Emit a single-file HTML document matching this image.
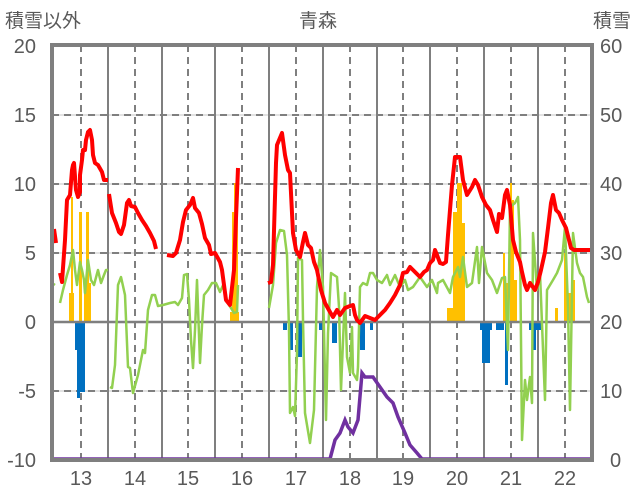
<!DOCTYPE html>
<html><head><meta charset="utf-8"><style>body{margin:0;background:#fff}svg{display:block}</style></head><body>
<svg width="636" height="501" xmlns="http://www.w3.org/2000/svg" font-family="Liberation Sans, Noto Sans CJK JP, sans-serif" fill="#595959">
<rect width="636" height="501" fill="#fff"/>
<g stroke="#d9d9d9" stroke-width="1.5"><line x1="52" y1="115" x2="592" y2="115"/><line x1="52" y1="184" x2="592" y2="184"/><line x1="52" y1="253" x2="592" y2="253"/><line x1="52" y1="391" x2="592" y2="391"/></g>
<g stroke="#7f7f7f" stroke-width="2" stroke-dasharray="7,5"><line x1="52" y1="115" x2="592" y2="115"/><line x1="52" y1="184" x2="592" y2="184"/><line x1="52" y1="253" x2="592" y2="253"/><line x1="52" y1="391" x2="592" y2="391"/>
<line x1="81" y1="45" x2="81" y2="460"/><line x1="135" y1="45" x2="135" y2="460"/><line x1="188" y1="45" x2="188" y2="460"/><line x1="242" y1="45" x2="242" y2="460"/><line x1="296" y1="45" x2="296" y2="460"/><line x1="350" y1="45" x2="350" y2="460"/><line x1="403" y1="45" x2="403" y2="460"/><line x1="457" y1="45" x2="457" y2="460"/><line x1="511" y1="45" x2="511" y2="460"/><line x1="565" y1="45" x2="565" y2="460"/></g>
<g stroke="#7f7f7f" stroke-width="2"><line x1="108" y1="45" x2="108" y2="460"/><line x1="162" y1="45" x2="162" y2="460"/><line x1="215" y1="45" x2="215" y2="460"/><line x1="269" y1="45" x2="269" y2="460"/><line x1="323" y1="45" x2="323" y2="460"/><line x1="377" y1="45" x2="377" y2="460"/><line x1="430" y1="45" x2="430" y2="460"/><line x1="484" y1="45" x2="484" y2="460"/><line x1="538" y1="45" x2="538" y2="460"/></g>
<g fill="#FFC000">
<rect x="69" y="293" width="5" height="29"/><rect x="71" y="197" width="2" height="125"/><rect x="79" y="212" width="3" height="110"/><rect x="84" y="283" width="7" height="39"/><rect x="86" y="212" width="3" height="110"/>
<rect x="230" y="312" width="9" height="10"/><rect x="232" y="212" width="3" height="110"/><rect x="234" y="183" width="4" height="139"/>
<rect x="447" y="308" width="6" height="14"/><rect x="453" y="212" width="4" height="110"/><rect x="457" y="183" width="5" height="139"/><rect x="462" y="223" width="3" height="99"/>
<rect x="503" y="253" width="2" height="69"/><rect x="505" y="283" width="3" height="39"/><rect x="510" y="183" width="2" height="139"/><rect x="512" y="200" width="2" height="122"/><rect x="514" y="280" width="3" height="42"/>
<rect x="555" y="308" width="3" height="14"/><rect x="564" y="253" width="3" height="69"/><rect x="567" y="293" width="5" height="29"/><rect x="572" y="280" width="3" height="42"/></g>
<g fill="#0070C0">
<rect x="75" y="322" width="4" height="28"/><rect x="77" y="322" width="3" height="76"/><rect x="80" y="322" width="5" height="70"/>
<rect x="283" y="322" width="4" height="8"/><rect x="288" y="322" width="5" height="28"/><rect x="298" y="322" width="4" height="35"/><rect x="319" y="322" width="3" height="8"/><rect x="332" y="322" width="5" height="21"/><rect x="360" y="322" width="5" height="28"/><rect x="370" y="322" width="3" height="8"/>
<rect x="480" y="322" width="12" height="8"/><rect x="482" y="322" width="8" height="41"/><rect x="496" y="322" width="8" height="8"/><rect x="505" y="322" width="3" height="63"/><rect x="529" y="322" width="13" height="8"/><rect x="533" y="322" width="3" height="28"/></g>
<line x1="52" y1="322" x2="592" y2="322" stroke="#7f7f7f" stroke-width="2.5"/>
<g fill="none" stroke="#92D050" stroke-width="2.5" stroke-linejoin="round">
<polyline points="52,283 55,285"/>
<polyline points="60,303 63,290 67,275 70,265 73,250 75,270 77,285 80,262 82,270 84,280 85,293 88,260 91,280 94,285 98,270 101,283 104,275 106,270 108,270"/>
<polyline points="110,387 112,388 115,365 118,285 121,277 125,295 128,367 130,368 133,393 138,375 143,350 145,353 148,310 152,295 155,295 158,306 163,305 170,303 175,302 178,305 182,298 184,275 187,274 189,300 191,340 193,368 195,330 197,280 199,335 200,363 202,325 204,295 208,290 212,283 216,283 220,292 224,283 227,302 231,308 234,313 237,312 238,285"/>
<polyline points="269,308 273,285 276,243 280,230 284,231 287,255 289,330 290,413 293,407 295,416 297,353 298,258 302,260 303,320 305,413 310,443 314,410 317,287 320,250 323,287 326,420 328,333 331,273 337,277 339,307 341,390 345,293 347,357 350,373 352,327 353,373 357,380 358,367 360,287 363,283 367,285 370,273 373,273 377,280 382,283 387,275 390,285 395,275 400,287 405,280 408,290 413,287 420,277 427,287 432,280 437,293 438,283 443,280 450,293 453,277 458,267 460,277 463,257 467,287 472,283 477,247 479,283 482,247 487,273 492,280 497,293 502,278 505,277 508,350 510,207 515,203 518,197 520,240 522,440 525,380 527,400 530,377 532,403 533,233 537,290 540,273 545,400 547,290 553,280 557,273 562,260 565,227 568,307 570,410 573,233 577,263 580,273 583,277 587,297 589,303"/></g>
<g fill="none" stroke="#FF0000" stroke-width="4" stroke-linejoin="round">
<polyline points="54,229 56,243"/>
<polyline points="60,273 62,282 65,240 67,200 70,195 72,170 73,165 74,163 76,190 78,197 80,192 80,175 82,160 83,150 85,150 86,140 88,132 90,130 92,140 93,155 95,163 98,165 102,172 104,180 108,180"/>
<polyline points="109,194 112,213 116,223 119,232 121,234 124,225 127,203 129,200 131,206 135,207 138,213 142,220 146,226 150,233 154,241 156,249"/>
<polyline points="167,255 173,256 176,253 180,240 183,222 186,210 190,205 193,198 195,208 199,213 202,224 205,238 209,245 211,254 215,253 220,262 222,270 224,285 226,300 230,305 234,270 236,218 238,168"/>
<polyline points="268,283 271,282 273,265 276,163 277,145 282,133 285,155 288,170 290,173 293,233 296,250 300,257 303,242 305,233 308,245 311,248 314,262 317,270 321,290 325,303 330,312 333,317 337,310 340,315 345,308 350,306 353,305 355,315 357,320 360,323 365,316 370,318 375,320 380,315 385,310 390,303 395,295 400,285 403,273 407,272 410,267 415,272 420,277 424,272 427,270 430,263 433,260 435,250 437,255 440,263 443,264 446,262 448,235 452,185 455,157 460,157 463,180 467,195 472,187 475,180 478,185 482,197 486,205 490,210 493,220 497,232 499,214 502,218 505,195 507,190 510,205 513,240 516,252 520,262 522,272 525,285 527,290 530,283 535,290 538,282 541,270 545,252 548,228 551,203 553,195 556,210 559,213 562,220 566,228 569,240 571,248 574,250 590,250"/></g>
<polyline fill="none" stroke="#7030A0" stroke-width="3.5" points="52,459 330,459 335,440 340,433 345,420 348,427 353,433 358,420 362,373 365,377 373,377 380,387 387,397 393,403 398,417 405,433 410,445 417,453 422,459 592,459"/>
<rect x="52" y="45" width="540" height="415" fill="none" stroke="#7f7f7f" stroke-width="4"/>
<g font-size="20" text-anchor="end"><text x="36" y="53">20</text><text x="36" y="122">15</text><text x="36" y="191">10</text><text x="36" y="260">5</text><text x="36" y="329">0</text><text x="36" y="398">-5</text><text x="36" y="467">-10</text></g>
<g font-size="20" text-anchor="start"><text x="600" y="53">60</text><text x="600" y="122">50</text><text x="600" y="191">40</text><text x="600" y="260">30</text><text x="600" y="329">20</text><text x="600" y="398">10</text><text x="610" y="467">0</text></g>
<g font-size="20" text-anchor="middle"><text x="81" y="485">13</text><text x="135" y="485">14</text><text x="188" y="485">15</text><text x="242" y="485">16</text><text x="296" y="485">17</text><text x="350" y="485">18</text><text x="403" y="485">19</text><text x="457" y="485">20</text><text x="511" y="485">21</text><text x="565" y="485">22</text></g>
<text x="5" y="27" font-size="19">積雪以外</text>
<text x="318" y="27" font-size="19" text-anchor="middle">青森</text>
<text x="631" y="27" font-size="19" text-anchor="end">積雪</text>
</svg>
</body></html>
